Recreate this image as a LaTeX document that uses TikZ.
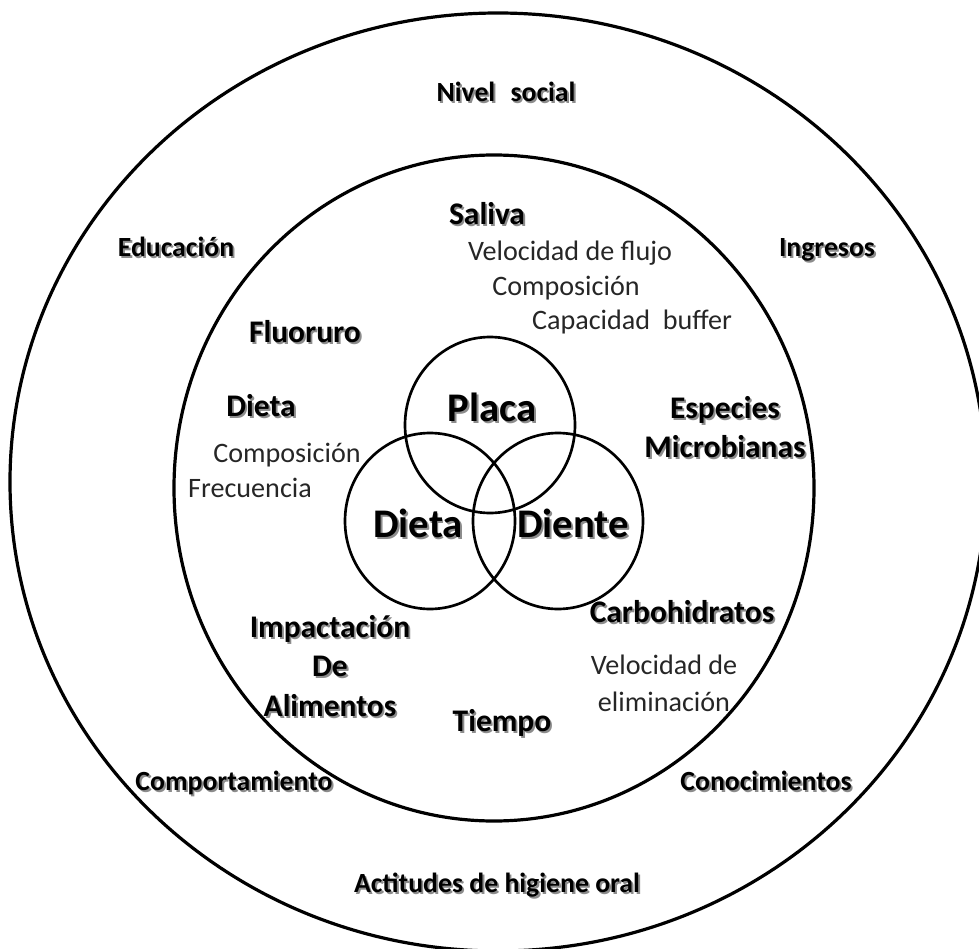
\documentclass[tikz,border=0pt]{standalone}
\usepackage{fontspec}
\setmainfont{Carlito}
\usepackage{xcolor}
\usetikzlibrary{positioning}

% bold label with a soft grey shadow
\newcommand{\shd}[1]{\leavevmode\rlap{\kern1.4pt\raisebox{-1.4pt}{\color{black!45}#1}}#1}

\begin{document}
\begin{tikzpicture}[
    x=0.75pt, y=-0.75pt,
    ring/.style={line width=2.4pt},
    venn/.style={line width=2pt},
    line/.style={text height=0.66em, text depth=0pt},
    outer/.style={line, font=\fontsize{20.8}{25}\selectfont\bfseries},
    factor/.style={font=\fontsize{23.6}{29.5}\selectfont\bfseries, align=center},
    core/.style={line, font=\fontsize{30.5}{36}\selectfont\bfseries},
    detail/.style={font=\fontsize{21.1}{27.8}\selectfont, text=black!85, align=center}
  ]
  \useasboundingbox (0,0) rectangle (979,949);
  \clip (0,0) rectangle (979,949);

  % rings
  \draw[ring] (498,482) ellipse [x radius=488, y radius=469];
  \draw[ring] (494,488) ellipse [x radius=320, y radius=333];

  % venn
  \draw[venn] (490,425) ellipse [x radius=85, y radius=88];
  \draw[venn] (430,521) ellipse [x radius=85, y radius=88];
  \draw[venn] (558,521) ellipse [x radius=85, y radius=88];
  \node[core] (placa)  at (492,417) {\shd{Placa}};
  \node[core] (dieta)  at (418,533) {\shd{Dieta}};
  \node[core] (diente) at (573,533) {\shd{Diente}};

  % outer ring
  \node[outer] (nivel)   at (506,97)  {\shd{Nivel\hspace{0.55em}social}};
  \node[outer] (educ)    at (176,252) {\shd{Educación}};
  \node[outer] (ingr)    at (827,252) {\shd{Ingresos}};
  \node[outer] (comport) at (234,786) {\shd{Comportamiento}};
  \node[outer] (conoc)   at (766,786) {\shd{Conocimientos}};
  \node[outer] (actit)   at (497,888) {\shd{Actitudes de higiene oral}};

  % inner ring
  \node[factor, line] (saliva) at (487,220) {\shd{Saliva}};
  \node[detail] (flujo)  at (570,253) {Velocidad de flujo};
  \node[detail] (compS)  at (566,288) {Composición};
  \node[detail] (buffer) at (632,322) {Capacidad\ \ buffer};
  \node[factor, line] (fluor)  at (305,338) {\shd{Fluoruro}};
  \node[factor, line] (dietaF) at (261,412) {\shd{Dieta}};
  \node[detail] (compD)  at (287,455) {Composición};
  \node[detail] (frec)   at (250,488) {Frecuencia};
  \node[factor] (micro)  at (725,428) {\shd{Especies}\\\shd{Microbianas}};
  \node[factor, line] (carbo)  at (682,618) {\shd{Carbohidratos}};
  \node[detail] (elim)   at (664,683) {Velocidad de\\eliminación};
  \node[factor] (impac)  at (330,667) {\shd{Impactación}\\\shd{De}\\\shd{Alimentos}};
  \node[factor, line] (tiempo) at (502,727) {\shd{Tiempo}};
\end{tikzpicture}
\end{document}
